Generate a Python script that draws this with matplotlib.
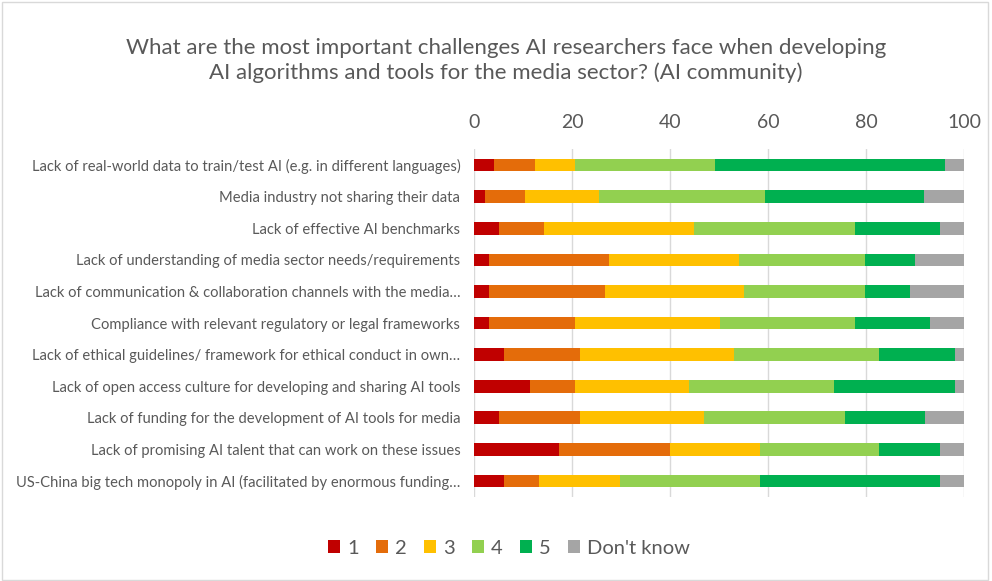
import matplotlib.pyplot as plt
import matplotlib.patches as mpatches
import numpy as np

plt.rcParams['font.family'] = ['Lato', 'DejaVu Sans']

categories = [
    "Lack of real-world data to train/test AI (e.g. in different languages)",
    "Media industry not sharing their data",
    "Lack of effective AI benchmarks",
    "Lack of understanding of media sector needs/requirements",
    "Lack of communication & collaboration channels with the media\u2026",
    "Compliance with relevant regulatory or legal frameworks",
    "Lack of ethical guidelines/ framework for ethical conduct in own\u2026",
    "Lack of open access culture for developing and sharing AI tools",
    "Lack of funding for the development of AI tools for media",
    "Lack of promising AI talent that can work on these issues",
    "US-China big tech monopoly in AI (facilitated by enormous funding\u2026",
]

# percentages per answer level
s1 = [4.1, 2.2, 5.1, 3.0, 3.0, 3.0, 6.1, 11.4, 5.1, 17.4, 6.1]
s2 = [8.3, 8.1, 9.1, 24.6, 23.6, 17.6, 15.5, 9.2, 16.5, 22.5, 7.1]
s3 = [8.2, 15.2, 30.7, 26.5, 28.5, 29.6, 31.5, 23.3, 25.4, 18.4, 16.5]
s4 = [28.5, 33.8, 32.8, 25.7, 24.7, 27.5, 29.6, 29.6, 28.6, 24.4, 28.6]
s5 = [46.9, 32.5, 17.3, 10.2, 9.2, 15.3, 15.4, 24.6, 16.3, 12.3, 36.7]
dont_know = [4.0, 8.2, 5.0, 10.0, 11.0, 7.0, 1.9, 1.9, 8.1, 5.0, 5.0]

series = [s1, s2, s3, s4, s5, dont_know]
names = ["1", "2", "3", "4", "5", "Don't know"]
colors = ["#C00000", "#E46C0A", "#FFC000", "#92D050", "#00B050", "#A5A5A5"]

text_col = "#595959"

fig = plt.figure(figsize=(9.92, 5.81), dpi=100)
ax = fig.add_axes([0.478, 0.145, 0.494, 0.598])

y = np.arange(len(categories))
left = np.zeros(len(categories))
for vals, name, col in zip(series, names, colors):
    ax.barh(y, vals, left=left, height=0.4, color=col, label=name, zorder=3)
    left += np.array(vals)

ax.set_xlim(0, 100)
ax.set_ylim(len(categories) - 0.5, -0.5)
ax.set_xticks(range(0, 101, 20))
ax.xaxis.tick_top()
ax.set_yticks(y)
ax.set_yticklabels(categories)
ax.tick_params(axis='x', length=0, labelsize=14, colors=text_col, pad=13)
ax.tick_params(axis='y', length=0, labelsize=10.6, colors=text_col, pad=10)
ax.grid(axis='x', color='#D9D9D9', linewidth=1, zorder=0)
for sp in ax.spines.values():
    sp.set_visible(False)

fig.suptitle("What are the most important challenges AI researchers face when developing\n"
             "AI algorithms and tools for the media sector? (AI community)",
             x=0.51, y=0.935, fontsize=16, color=text_col, linespacing=1.3)

fig.legend(loc='center', bbox_to_anchor=(0.513, 0.056), ncol=6, frameon=False,
           fontsize=14.5, labelcolor=text_col, handlelength=0.6, handleheight=0.6,
           handletextpad=0.35, columnspacing=0.85)

fig.patches.append(mpatches.Rectangle((0.002, 0.002), 0.994, 0.994, transform=fig.transFigure,
                                      fill=False, edgecolor='#D9D9D9', linewidth=1))

fig.savefig("out.png", dpi=100)
